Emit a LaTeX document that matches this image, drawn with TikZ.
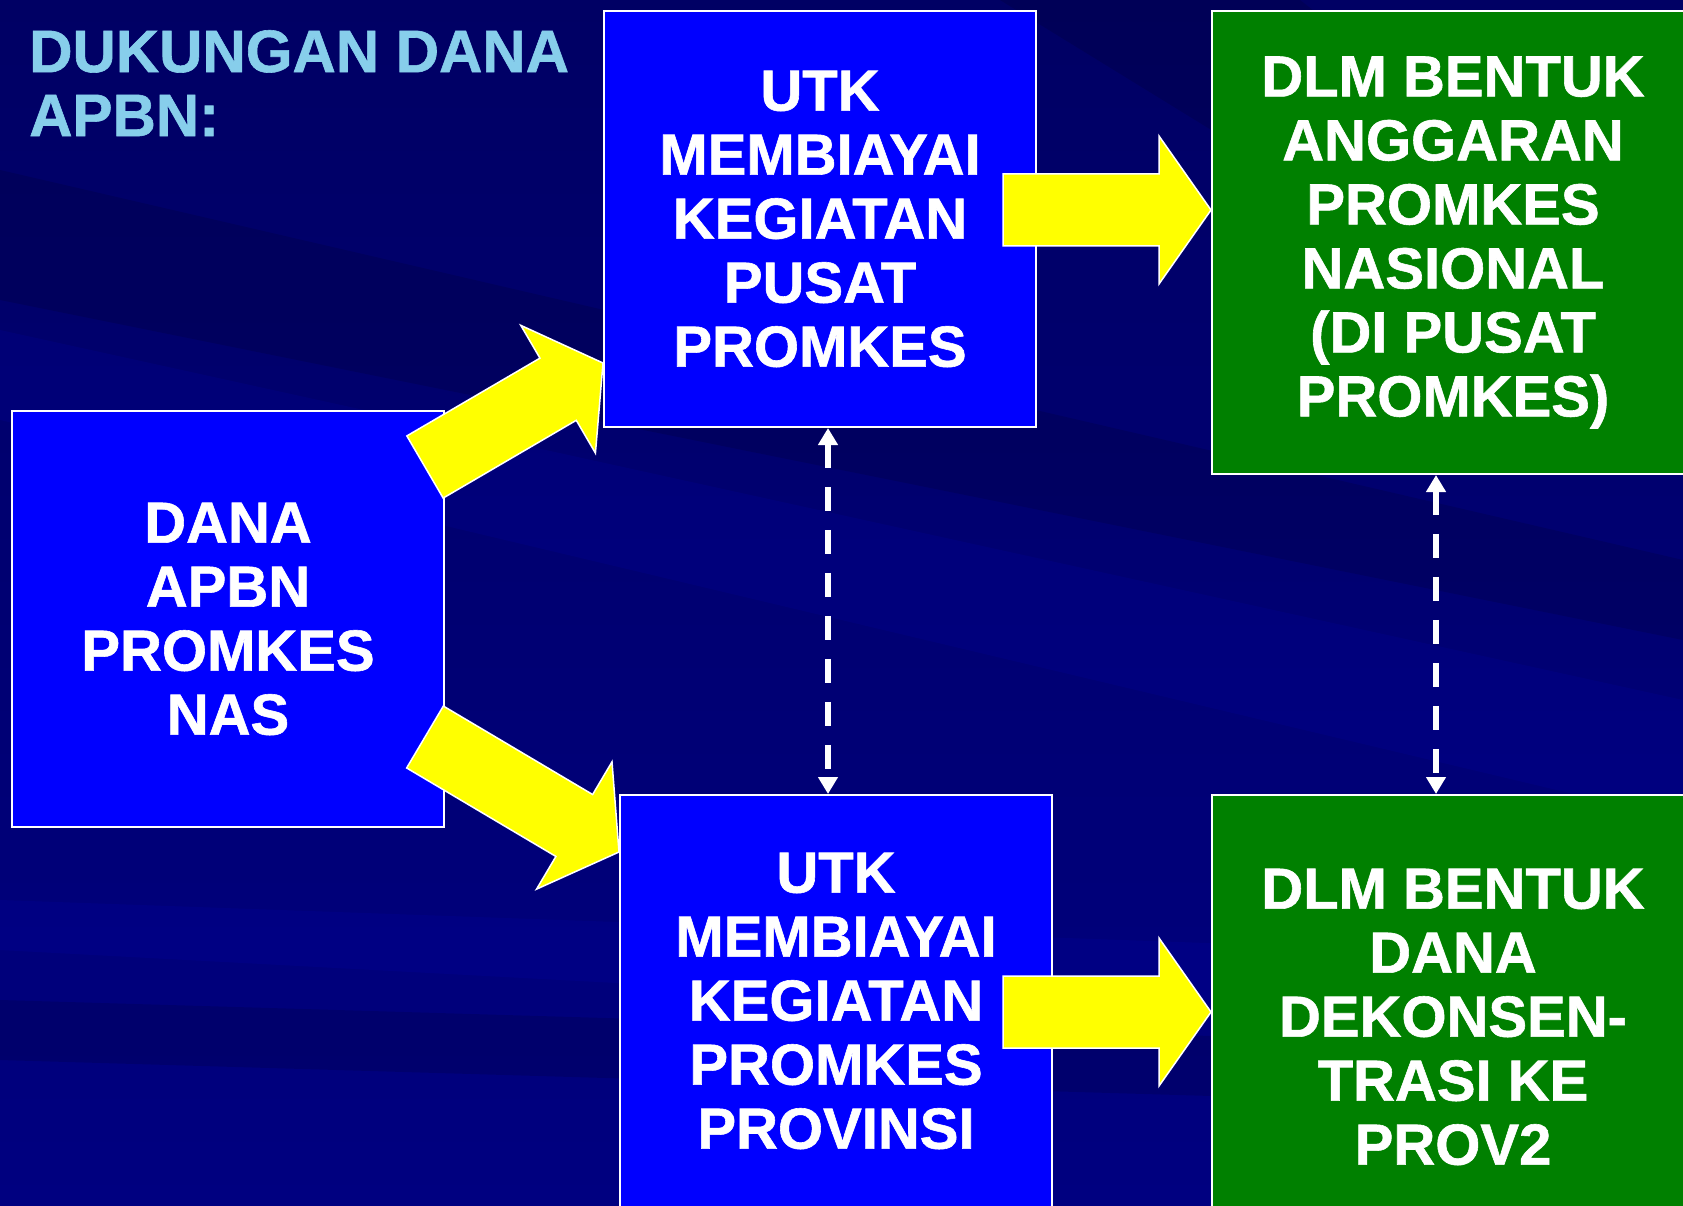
\documentclass[tikz,border=0pt]{standalone}
\usepackage{fontspec}
\setmainfont{Liberation Sans}[BoldFeatures={FakeBold=1}]
\usetikzlibrary{arrows.meta, positioning, calc}

\definecolor{bgtop}{RGB}{0,0,100}
\definecolor{bgbottom}{RGB}{0,0,128}
\definecolor{boxblue}{RGB}{0,0,255}
\definecolor{boxgreen}{RGB}{0,128,0}
\definecolor{headblue}{RGB}{135,206,235}
\definecolor{arrowyellow}{RGB}{255,255,0}

% fat yellow arrow from #1 to #2
\newcommand{\fatarrow}[2]{%
  \path (#1) coordinate (fa-s) (#2) coordinate (fa-e);
  \path ($(fa-e)!52pt!(fa-s)$) coordinate (fa-h);
  \filldraw[fat] ($(fa-s)!36pt!90:(fa-e)$) -- ($(fa-h)!36pt!-90:(fa-s)$)
    -- ($(fa-h)!74pt!-90:(fa-s)$) -- (fa-e) -- ($(fa-h)!74pt!90:(fa-s)$)
    -- ($(fa-h)!36pt!90:(fa-s)$) -- ($(fa-s)!36pt!-90:(fa-e)$) -- cycle;
}

\begin{document}
\begin{tikzpicture}[
  x=1pt, y=-1pt, >=Latex,
  box/.style={rectangle, draw=white, line width=2pt, inner sep=0pt, align=center, text=white, font=\fontsize{58}{64}\selectfont\bfseries},
  bluebox/.style={box, fill=boxblue, minimum width=432pt, minimum height=416pt},
  greenbox/.style={box, fill=boxgreen, minimum width=482pt},
  head/.style={inner sep=0pt, align=left, text=headblue, font=\fontsize{60}{64}\selectfont\bfseries},
  fat/.style={fill=arrowyellow, draw=white, line width=1.5pt, line join=miter},
  twoway/.style={white, line width=5.5pt, dash pattern=on 24pt off 19pt, {Triangle[width=19pt,length=17pt]}-{Triangle[width=19pt,length=17pt]}},
  streak/.style={fill=boxblue, opacity=0.07},
  shadow/.style={fill=black, opacity=0.12}
]
  \useasboundingbox (0,0) rectangle (1683,1206);
  \clip (0,0) rectangle (1683,1206);
  \shade[top color=bgtop, bottom color=bgbottom] (0,0) rectangle (1683,1206);
  % background streaks
  \fill[shadow] (0,170) -- (1683,560) -- (1683,640) -- (0,300) -- cycle;
  \fill[streak] (0,330) -- (1683,700) -- (1683,820) -- (0,420) -- cycle;
  \fill[shadow] (1000,0) -- (1300,0) -- (1683,300) -- (1683,420) -- cycle;
  \fill[streak] (0,900) -- (1683,960) -- (1683,1040) -- (0,950) -- cycle;
  \fill[shadow] (0,1000) -- (1683,1050) -- (1683,1110) -- (0,1060) -- cycle;

  \node[head, anchor=north west] (title) at (29,30) {DUKUNGAN DANA\\APBN:};

  \node[bluebox] (dana) at (228,619) {DANA\\APBN\\PROMKES\\NAS};
  \node[bluebox] (pusat) at (820,219) {UTK\\MEMBIAYAI\\KEGIATAN\\PUSAT\\PROMKES};
  \node[bluebox, minimum height=412pt] (prov) at (836,1001) {UTK\\MEMBIAYAI\\KEGIATAN\\PROMKES\\PROVINSI};
  \node[greenbox, minimum height=463pt] (anggaran) at (1453,242.5) {DLM BENTUK\\ANGGARAN\\PROMKES\\NASIONAL\\(DI PUSAT\\PROMKES)};
  \node[greenbox, minimum height=444pt] (dekon) at (1453,1017) {DLM BENTUK\\DANA\\DEKONSEN-\\TRASI KE\\PROV2};

  \coordinate (t1) at (1003,210);
  \coordinate (t2) at (1003,1012);
  \coordinate (t3) at (425,467);
  \coordinate (t4) at (425,737);
  \fatarrow{t1}{anggaran.west |- t1}
  \fatarrow{t2}{dekon.west |- t2}
  \fatarrow{t3}{[yshift=65pt]pusat.south west}
  \fatarrow{t4}{[yshift=-58pt]prov.north west}

  \draw[twoway] ([xshift=8pt]pusat.south) -- ([xshift=-8pt]prov.north);
  \draw[twoway] ([xshift=-17pt]anggaran.south) -- ([xshift=-17pt]dekon.north);
\end{tikzpicture}
\end{document}
